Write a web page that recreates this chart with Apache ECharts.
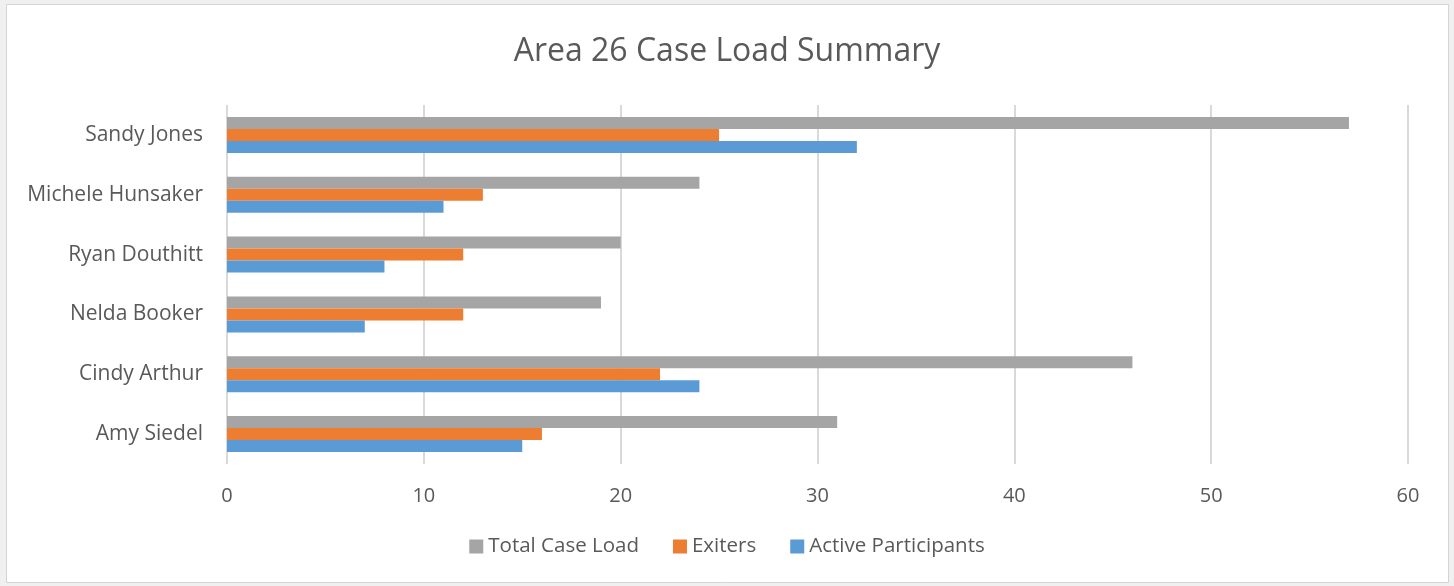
<!DOCTYPE html>
<html><head><meta charset="utf-8">
<script src="https://cdn.jsdelivr.net/npm/echarts@6/dist/echarts.min.js"></script>
<style>html,body{margin:0;padding:0;background:#fff}#c{width:1454px;height:586px}</style>
</head><body><div id="c"></div>
<script>
const categories = ['Amy Siedel','Cindy Arthur','Nelda Booker','Ryan Douthitt','Michele Hunsaker','Sandy Jones'];
const activeParticipants = [15, 24, 7, 8, 11, 32];
const exiters = [16, 22, 12, 12, 13, 25];
const totalCaseLoad = [31, 46, 19, 20, 24, 57];
const xTicks = [0,10,20,30,40,50,60];

const font = '"Open Sans", Lato, sans-serif';
const chart = echarts.init(document.getElementById('c'));
chart.setOption({
  backgroundColor: '#f0f0f0',
  animation: false,
  textStyle: {fontFamily: font},
  graphic: [{type:'rect', z:-10, shape:{x:6.5,y:4.5,width:1442,height:578}, style:{fill:'#fff', stroke:'#d4d4d4', lineWidth:1}}],
  title: {text:'Area 26 Case Load Summary', left:'center', top:31,
    textStyle:{fontFamily:font, fontSize:32, fontWeight:'normal', color:'#595959'}},
  legend: {data:['Total Case Load','Exiters','Active Participants'], bottom:24, left:'center',
    itemWidth:14, itemHeight:14, itemGap:34, icon:'rect',
    textStyle:{fontFamily:font, fontSize:20.5, color:'#595959'}},
  grid: {left:227, right:46, top:105, bottom:122, containLabel:false},
  xAxis: {type:'value', min:xTicks[0], max:xTicks[xTicks.length-1], interval:10,
    axisLine:{show:false}, axisTick:{show:false},
    splitLine:{show:true, lineStyle:{color:'#d9d9d9', width:2}},
    axisLabel:{fontFamily:font, fontSize:20, color:'#595959', margin:22}},
  yAxis: {type:'category', data:categories,
    axisLine:{show:false}, axisTick:{show:false},
    axisLabel:{fontFamily:font, fontSize:21, color:'#595959', margin:24}},
  series: [
    {name:'Total Case Load', type:'bar', data:totalCaseLoad, barWidth:12, barGap:'0%', itemStyle:{color:'#a5a5a5'}},
    {name:'Exiters', type:'bar', data:exiters, barWidth:12, barGap:'0%', itemStyle:{color:'#ed7d31'}},
    {name:'Active Participants', type:'bar', data:activeParticipants, barWidth:12, barGap:'0%', itemStyle:{color:'#5b9bd5'}}
  ]
});
</script></body></html>
